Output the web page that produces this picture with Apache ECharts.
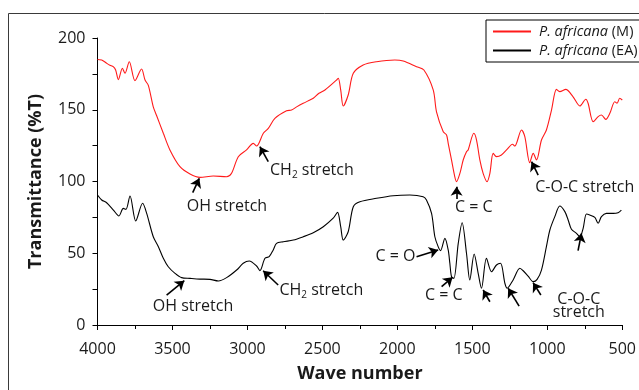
<!DOCTYPE html>
<html><head><meta charset="utf-8">
<script src="https://cdn.jsdelivr.net/npm/echarts@6/dist/echarts.min.js"></script>
<style>html,body{margin:0;padding:0;background:#fff}#c{width:639px;height:390px}</style>
</head><body><div id="c"></div>
<script>
const xTicks = [4000, 3500, 3000, 2500, 2000, 1500, 1000, 500];
const yTicks = [0, 50, 100, 150, 200];
const seriesNames = ['P. africana (M)', 'P. africana (EA)'];

const waveM = [4000,3972,3939,3917,3895,3879,3861,3834,3817,3788,3750,3706,3683,3661,3628,3606,3561,3517,3450,3383,3317,3228,3139,3106,3061,3006,2961,2939,2894,2861,2817,2739,2706,2672,2628,2583,2561,2523,2483,2406,2394,2378,2361,2328,2294,2228,2139,2017,1961,1872,1823,1761,1739,1694,1672,1661,1639,1617,1606,1583,1561,1539,1528,1490,1472,1450,1428,1402,1383,1361,1339,1306,1272,1232,1217,1172,1150,1117,1094,1072,1039,1006,972,939,917,877,828,783,743,728,694,661,639,610,583,550,535,517,500];
const transM = [185,184.7,182.4,181,180,177.7,171,178.9,175.4,183.5,170.3,178.4,170.7,167,152,146,133.6,122,110.3,105.2,102.9,103.8,103.3,105.7,117.3,122,126.6,124.7,133.6,137,144,149.3,149.8,152,154.5,156.8,158,161.5,163.8,170.7,172,163.8,152.6,160.3,175.4,181.2,183.5,184.7,184,180,177.7,163.8,148.6,134.7,132.4,126.6,115,103.3,99.9,105.7,115,120.8,122,133.6,128.9,115,105.7,99.9,105.7,119.6,117.3,118.5,122,126,124.7,135.9,131.2,113.1,119.6,115,128.9,135.9,149.8,164.2,162.6,164.2,159,152.6,157.3,154.5,141.7,145.2,146.3,143.3,147.5,155.6,154.5,158,156.8];

const waveEA = [4000,3972,3939,3894,3857,3828,3810,3783,3745,3699,3672,3628,3594,3561,3528,3483,3439,3383,3317,3250,3194,3139,3072,3028,2988,2939,2917,2883,2855,2828,2806,2761,2694,2628,2561,2494,2428,2399,2378,2361,2328,2294,2250,2139,2028,1917,1828,1806,1772,1750,1728,1712,1683,1661,1650,1639,1623,1594,1568,1539,1517,1488,1461,1439,1406,1372,1339,1312,1283,1268,1228,1183,1161,1128,1094,1068,1039,1006,983,950,917,883,861,839,806,783,761,739,717,683,661,639,606,561,528,506];
const transEA = [90.6,87.1,85.2,80.1,76,81.3,80.6,89.9,72.5,84.8,77.8,61.5,54.6,46.5,40.6,36,33,32.5,32,31.8,30.7,33,38.3,43,44.6,41.1,37.9,46.5,47.6,52.3,56.9,58,59.2,61.5,64.3,68.5,74.4,78.5,68.5,59.2,65,82.4,85.9,88.3,90.1,90.6,89.4,87.1,77.8,61.5,54.6,51.8,60.4,52.3,43,33.7,32.5,56.9,71.3,50,31.4,49.5,36,25.6,46.5,37.1,41.8,43,29.1,25.6,31.4,39.5,37.8,34.1,30.2,31.8,38.3,54.6,66.2,75.5,82.9,79,73.2,66.7,63.9,61.5,67.4,77.4,76.7,75,70.9,75.5,77.8,77.8,78.3,80.1];

// annotation labels: [text, wave, transmittance]
const labelsM = [
  ['OH stretch', 3137, 82.9],
  ['CH{sub|2} stretch', 2570, 108.0],
  ['C = C', 1490, 82.2],
  ['C-O-C stretch', 750, 96.2]
];
const labelsEA = [
  ['OH stretch', 3363, 13.2],
  ['CH{sub|2} stretch', 2507, 24.4],
  ['C = O', 2012, 47.6],
  ['C = C', 1690, 20.9],
  ['C-O-C\nstretch', 790, 13.2]
];
// arrows: [tailWave, tailT, tipWave, tipT]
const arrowsM = [
  [3365, 92.2, 3321, 102.2],
  [2861, 113.8, 2917, 124.3],
  [1605, 87.8, 1605, 96.4],
  [1061, 104.5, 1105, 113.8]
];
const arrowsEA = [
  [3539, 20.9, 3421, 30.9],
  [2795, 27.9, 2895, 37.8],
  [1872, 47.6, 1728, 52.3],
  [1705, 26.7, 1632, 33.2],
  [1383, 16.2, 1428, 24.4],
  [1188, 13.2, 1261, 25.6],
  [1043, 20.9, 1095, 29.5],
  [795, 51.8, 772, 63.9]
];

const FONT = 'Open Sans';
const TXT = '#1a1a1a';
const zip = (a, b) => a.map((v, i) => [v, b[i]]);
const rich = { sub: { fontSize: 10, fontFamily: FONT, color: TXT, padding: [10, 0, 0, 0] } };
const mkPoints = arr => ({
  silent: true, symbol: 'circle', symbolSize: 0, itemStyle: { color: 'rgba(0,0,0,0)' },
  label: { show: true, position: 'inside', color: TXT, fontFamily: FONT, fontSize: 16, lineHeight: 13, rich: rich,
    formatter: p => p.data.txt },
  data: arr.map(d => ({ coord: [d[1], d[2]], txt: d[0] }))
});
const mkArrows = arr => ({
  silent: true, symbol: ['none', 'arrow'], symbolSize: 9, animation: false,
  lineStyle: { color: '#000', width: 1.6, type: 'solid' },
  itemStyle: { color: '#000' },
  label: { show: false },
  emphasis: { disabled: true },
  data: arr.map(a => [{ coord: [a[0], a[1]] }, { coord: [a[2], a[3]] }])
});

const chart = echarts.init(document.getElementById('c'), null, { renderer: 'canvas' });
chart.setOption({
  animation: false,
  backgroundColor: '#fff',
  graphic: [{ type: 'rect', shape: { x: 8.5, y: 13.5, width: 800, height: 600 }, style: { fill: 'none', stroke: '#3a3a3a', lineWidth: 1 }, z: -10 }],
  grid: { left: 97.5, right: 16.5, top: 38, bottom: 65 },
  legend: {
    orient: 'vertical', left: 486, top: 20, itemWidth: 38, itemHeight: 14, itemGap: 4,
    padding: [4, 30, 4, 6], borderColor: '#000', borderWidth: 1, backgroundColor: '#fff',
    itemStyle: { opacity: 0 },
    data: seriesNames,
    formatter: n => n.replace('P. africana', '{i|P. africana}'),
    textStyle: { fontFamily: FONT, fontSize: 14.5, lineHeight: 15, color: TXT, padding: [0, 0, 0, 3],
      rich: { i: { fontStyle: 'italic', fontFamily: FONT, fontSize: 14.5, lineHeight: 15, color: TXT } } }
  },
  xAxis: {
    type: 'value', inverse: true, min: xTicks[xTicks.length - 1], max: xTicks[0], interval: 500,
    name: 'Wave number', nameLocation: 'middle', nameGap: 40,
    nameTextStyle: { fontFamily: FONT, fontWeight: 'bold', fontSize: 18, color: TXT },
    axisLine: { lineStyle: { color: '#000', width: 1 } },
    axisTick: { length: 5, lineStyle: { color: '#000' } },
    minorTick: { show: true, splitNumber: 2, length: 4, lineStyle: { color: '#000' } },
    splitLine: { show: false },
    axisLabel: { fontFamily: FONT, fontSize: 16, color: TXT, margin: 16, formatter: v => String(v) }
  },
  yAxis: {
    type: 'value', min: yTicks[0], max: yTicks[yTicks.length - 1], interval: 50,
    name: 'Transmittance (%T)', nameLocation: 'middle', nameGap: 53,
    nameTextStyle: { fontFamily: FONT, fontWeight: 'bold', fontSize: 18, color: TXT },
    axisLine: { show: true, lineStyle: { color: '#000', width: 1 } },
    axisTick: { show: true, length: 5, lineStyle: { color: '#000' } },
    minorTick: { show: true, splitNumber: 2, length: 5, lineStyle: { color: '#000' } },
    splitLine: { show: false },
    axisLabel: { fontFamily: FONT, fontSize: 16, color: TXT, margin: 12, formatter: v => String(v) }
  },
  series: [
    { name: seriesNames[0], type: 'line', symbol: 'none', smooth: 0.3, color: '#ff1a1a',
      lineStyle: { width: 1.1, color: '#ff1a1a' }, data: zip(waveM, transM),
      markPoint: mkPoints(labelsM), markLine: mkArrows(arrowsM) },
    { name: seriesNames[1], type: 'line', symbol: 'none', smooth: 0.3, color: '#000',
      lineStyle: { width: 1.1, color: '#000' }, data: zip(waveEA, transEA),
      markPoint: mkPoints(labelsEA), markLine: mkArrows(arrowsEA) }
  ]
});
</script></body></html>
